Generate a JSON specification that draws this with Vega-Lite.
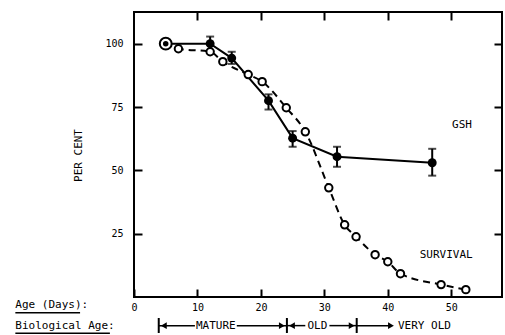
{
  "$schema": "https://vega.github.io/schema/vega-lite/v6.json",
  "width": 368,
  "height": 285,
  "autosize": "none",
  "padding": {"left": 134, "top": 12, "right": 3, "bottom": 38},
  "background": "white",
  "config": {
    "view": {"stroke": "black", "strokeWidth": 2},
    "axis": {"grid": false, "domain": false, "tickColor": "black", "tickWidth": 2, "labelFont": "DejaVu Sans Mono", "labelFontSize": 10, "labelColor": "black", "titleFont": "DejaVu Sans Mono", "titleColor": "black", "titleFontWeight": "normal"},
    "text": {"font": "DejaVu Sans Mono", "fontSize": 11, "color": "black"}
  },
  "datasets": {
    "survival": [
      {"age": 5, "pct": 100}, {"age": 7, "pct": 98}, {"age": 12, "pct": 96.8}, {"age": 14, "pct": 92.9},
      {"age": 18, "pct": 87.8}, {"age": 20.2, "pct": 85}, {"age": 24, "pct": 74.7}, {"age": 27, "pct": 65.2},
      {"age": 30.7, "pct": 43.1}, {"age": 33.2, "pct": 28.5}, {"age": 35, "pct": 23.8}, {"age": 38, "pct": 16.7},
      {"age": 40, "pct": 13.9}, {"age": 42, "pct": 9.2}, {"age": 48.4, "pct": 4.9}, {"age": 52.3, "pct": 2.9}
    ],
    "gsh": [
      {"age": 5, "pct": 100, "lo": null, "hi": null},
      {"age": 12, "pct": 100, "lo": 97.2, "hi": 102.8},
      {"age": 15.4, "pct": 94.3, "lo": 92, "hi": 96.8},
      {"age": 21.2, "pct": 77.5, "lo": 74, "hi": 80},
      {"age": 25, "pct": 62.7, "lo": 59.3, "hi": 65.5},
      {"age": 32, "pct": 55.4, "lo": 51.4, "hi": 59.3},
      {"age": 47, "pct": 53, "lo": 47.9, "hi": 58.5}
    ],
    "segments": [
      {"x1": 3.9, "x2": 9.6, "y": -11.3}, {"x1": 16.2, "x2": 24.1, "y": -11.3},
      {"x1": 24.1, "x2": 27.0, "y": -11.3}, {"x1": 30.8, "x2": 35.1, "y": -11.3},
      {"x1": 35.1, "x2": 40.5, "y": -11.3},
      {"x1": -18.7, "x2": -8.5, "y": -6.2}, {"x1": -18.7, "x2": -3.8, "y": -14.3}
    ],
    "bars": [
      {"x": 3.9, "y1": -8.3, "y2": -14.2}, {"x": 24.1, "y1": -8.3, "y2": -14.2}, {"x": 35.1, "y1": -8.3, "y2": -14.2}
    ],
    "arrows": [
      {"x": 4.7, "y": -11.3, "dir": "left"}, {"x": 23.3, "y": -11.3, "dir": "right"},
      {"x": 24.9, "y": -11.3, "dir": "left"}, {"x": 34.3, "y": -11.3, "dir": "right"},
      {"x": 40.5, "y": -11.3, "dir": "right"}
    ],
    "centerLabels": [
      {"x": 51.7, "y": 68, "text": "GSH"},
      {"x": 49.2, "y": 16.7, "text": "SURVIVAL"},
      {"x": 12.9, "y": -11.3, "text": "MATURE"},
      {"x": 28.9, "y": -11.3, "text": "OLD"}
    ],
    "leftLabels": [
      {"x": 41.6, "y": -11.3, "text": "VERY OLD"},
      {"x": -18.7, "y": -3.2, "text": "Age (Days):"},
      {"x": -18.7, "y": -11.3, "text": "Biological Age:"}
    ]
  },
  "layer": [
    {
      "data": {"name": "survival"},
      "mark": {"type": "line", "color": "black", "strokeWidth": 2, "strokeDash": [7, 5], "interpolate": "monotone"},
      "encoding": {
        "x": {"field": "age", "type": "quantitative", "scale": {"domain": [0, 58], "nice": false, "zero": false},
          "axis": {"orient": "bottom", "values": [0, 10, 20, 30, 40, 50], "tickSize": -8, "labelPadding": 13, "labelFlush": false, "title": null}},
        "y": {"field": "pct", "type": "quantitative", "scale": {"domain": [0, 112.5], "nice": false},
          "axis": {"orient": "left", "values": [25, 50, 75, 100], "tickSize": -8, "labelPadding": 19, "title": "PER  CENT", "titleFontSize": 11, "titleX": -56, "titleY": 143, "titleAngle": -90, "titleAlign": "center", "titleBaseline": "middle"}}
      }
    },
    {
      "data": {"name": "gsh"},
      "mark": {"type": "line", "color": "black", "strokeWidth": 2},
      "encoding": {
        "x": {"field": "age", "type": "quantitative", "axis": {"orient": "top", "values": [10, 20, 30, 40, 50], "tickSize": -8, "labels": false, "title": null}},
        "y": {"field": "pct", "type": "quantitative", "axis": {"orient": "right", "values": [25, 50, 75, 100], "tickSize": -8, "labels": false, "title": null}}
      }
    },
    {
      "data": {"name": "gsh"},
      "transform": [{"filter": "datum.lo != null"}],
      "mark": {"type": "rule", "color": "black", "strokeWidth": 2},
      "encoding": {
        "x": {"field": "age", "type": "quantitative", "axis": null},
        "y": {"field": "lo", "type": "quantitative", "axis": null},
        "y2": {"field": "hi"}
      }
    },
    {
      "data": {"name": "gsh"},
      "transform": [{"filter": "datum.lo != null"}, {"fold": ["lo", "hi"], "as": ["end", "val"]}],
      "mark": {"type": "tick", "color": "black", "thickness": 2, "size": 8, "orient": "horizontal"},
      "encoding": {
        "x": {"field": "age", "type": "quantitative", "axis": null},
        "y": {"field": "val", "type": "quantitative", "axis": null}
      }
    },
    {
      "data": {"name": "survival"},
      "transform": [{"filter": "datum.age == 5"}],
      "mark": {"type": "point", "shape": "circle", "filled": false, "fill": "white", "stroke": "black", "strokeWidth": 2, "size": 140, "opacity": 1},
      "encoding": {
        "x": {"field": "age", "type": "quantitative", "axis": null},
        "y": {"field": "pct", "type": "quantitative", "axis": null}
      }
    },
    {
      "data": {"name": "survival"},
      "transform": [{"filter": "datum.age != 5"}],
      "mark": {"type": "point", "shape": "circle", "filled": false, "fill": "white", "stroke": "black", "strokeWidth": 2, "size": 55, "opacity": 1},
      "encoding": {
        "x": {"field": "age", "type": "quantitative", "axis": null},
        "y": {"field": "pct", "type": "quantitative", "axis": null}
      }
    },
    {
      "data": {"name": "gsh"},
      "mark": {"type": "point", "shape": "circle", "filled": true, "color": "black", "opacity": 1},
      "encoding": {
        "x": {"field": "age", "type": "quantitative", "axis": null},
        "y": {"field": "pct", "type": "quantitative", "axis": null},
        "size": {"condition": {"test": "datum.age == 5", "value": 30}, "value": 80}
      }
    },
    {
      "data": {"name": "segments"},
      "mark": {"type": "rule", "color": "black", "strokeWidth": 1.5},
      "encoding": {
        "x": {"field": "x1", "type": "quantitative", "axis": null},
        "x2": {"field": "x2"},
        "y": {"field": "y", "type": "quantitative", "axis": null}
      }
    },
    {
      "data": {"name": "bars"},
      "mark": {"type": "rule", "color": "black", "strokeWidth": 2},
      "encoding": {
        "x": {"field": "x", "type": "quantitative", "axis": null},
        "y": {"field": "y1", "type": "quantitative", "axis": null},
        "y2": {"field": "y2"}
      }
    },
    {
      "data": {"name": "arrows"},
      "mark": {"type": "point", "filled": true, "color": "black", "size": 45, "opacity": 1},
      "encoding": {
        "x": {"field": "x", "type": "quantitative", "axis": null},
        "y": {"field": "y", "type": "quantitative", "axis": null},
        "shape": {"field": "dir", "type": "nominal", "scale": {"domain": ["left", "right"], "range": ["triangle-left", "triangle-right"]}, "legend": null}
      }
    },
    {
      "data": {"name": "centerLabels"},
      "mark": {"type": "text", "baseline": "middle", "align": "center"},
      "encoding": {
        "x": {"field": "x", "type": "quantitative", "axis": null},
        "y": {"field": "y", "type": "quantitative", "axis": null},
        "text": {"field": "text"}
      }
    },
    {
      "data": {"name": "leftLabels"},
      "mark": {"type": "text", "baseline": "middle", "align": "left"},
      "encoding": {
        "x": {"field": "x", "type": "quantitative", "axis": null},
        "y": {"field": "y", "type": "quantitative", "axis": null},
        "text": {"field": "text"}
      }
    }
  ],
  "resolve": {"axis": {"x": "independent", "y": "independent"}}
}
